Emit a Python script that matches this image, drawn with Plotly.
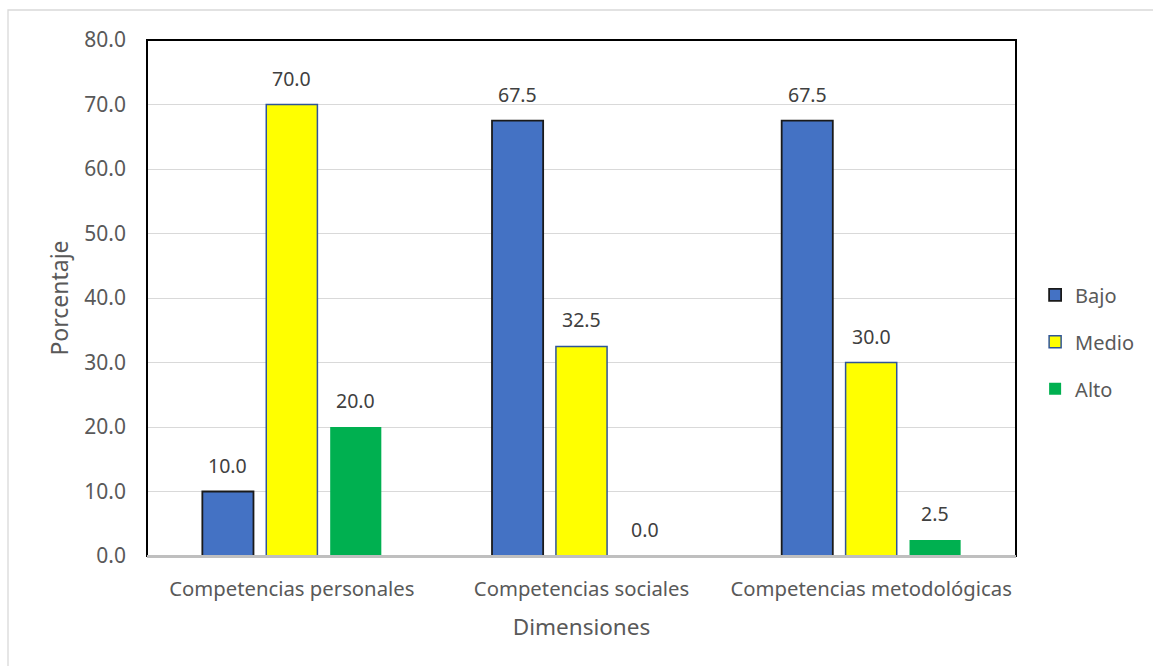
import plotly.graph_objects as go

categories = ["Competencias personales", "Competencias sociales", "Competencias metodológicas"]
series_names = ["Bajo", "Medio", "Alto"]
bajo = [10.0, 67.5, 67.5]
medio = [70.0, 32.5, 30.0]
alto = [20.0, 0.0, 2.5]
y_ticks = [0, 10, 20, 30, 40, 50, 60, 70, 80]

FONT = "Noto Sans"
fills = ["#4472C4", "#FFFF00", "#00B050"]
outlines = ["#1a1a1a", "#2F5597", "#00B050"]
outline_w = [1.8, 1.5, 0]

PLOT_W = 1016 - 147
GROUP_W = PLOT_W / len(categories)
BARGAP = 0.338
PITCH = GROUP_W * (1 - BARGAP) / 3

fig = go.Figure()
annotations = []
all_series = [bajo, medio, alto]
for i, (name, vals, fc, lc, lw) in enumerate(zip(series_names, all_series, fills, outlines, outline_w)):
    fig.add_trace(go.Bar(
        name=name, x=categories, y=vals, legendgroup=name,
        marker=dict(color=fc, line=dict(color=lc, width=lw)),
    ))
    for c, v in zip(categories, vals):
        annotations.append(dict(
            x=c, y=v, xref="x", yref="y", text=f"{v:.1f}", showarrow=False,
            xanchor="center", yanchor="bottom", xshift=(i - 1) * PITCH, yshift=11,
            font=dict(size=19.5, color="#404040", family=FONT),
        ))

fig.update_layout(
    width=1153, height=666,
    margin=dict(l=147, r=1153 - 1016, t=40, b=666 - 556, autoexpand=False),
    paper_bgcolor="white", plot_bgcolor="white",
    barmode="group", bargap=BARGAP, bargroupgap=0.2,
    font=dict(family=FONT, color="#595959"),
    showlegend=True,
    legend=dict(x=1.022, y=0.415, xanchor="left", yanchor="middle",
                font=dict(size=20, color="#595959", family=FONT),
                itemwidth=30, tracegroupgap=18, traceorder="grouped"),
    annotations=annotations,
    xaxis=dict(title=dict(text="Dimensiones", font=dict(size=22.5, color="#595959"), standoff=18),
               tickfont=dict(size=20.3, color="#595959"), ticklabelstandoff=14,
               showline=True, linecolor="#BFBFBF", linewidth=2, ticks=""),
    yaxis=dict(title=dict(text="Porcentaje", font=dict(size=23, color="#595959"), standoff=9),
               range=[0, 80], tickvals=y_ticks, ticktext=[f"{v:.1f}" for v in y_ticks],
               tickfont=dict(size=21, color="#595959"), ticklabelstandoff=20,
               showgrid=True, gridcolor="#D9D9D9", gridwidth=1.3,
               zeroline=False, ticks=""),
    shapes=[
        dict(type="rect", xref="paper", yref="paper", x0=0, y0=0, x1=1, y1=1,
             line=dict(color="black", width=2), layer="above"),
        dict(type="line", xref="paper", yref="paper", x0=0, x1=1, y0=0, y1=0,
             line=dict(color="#BFBFBF", width=2), layer="above"),
        dict(type="rect", xref="paper", yref="paper",
             x0=(8 - 147) / PLOT_W, x1=(1160 - 147) / PLOT_W, y0=(556 - 680) / 516, y1=(556 - 10) / 516,
             line=dict(color="#D9D9D9", width=1.3), layer="below"),
    ],
)

fig.write_html("out.html")
